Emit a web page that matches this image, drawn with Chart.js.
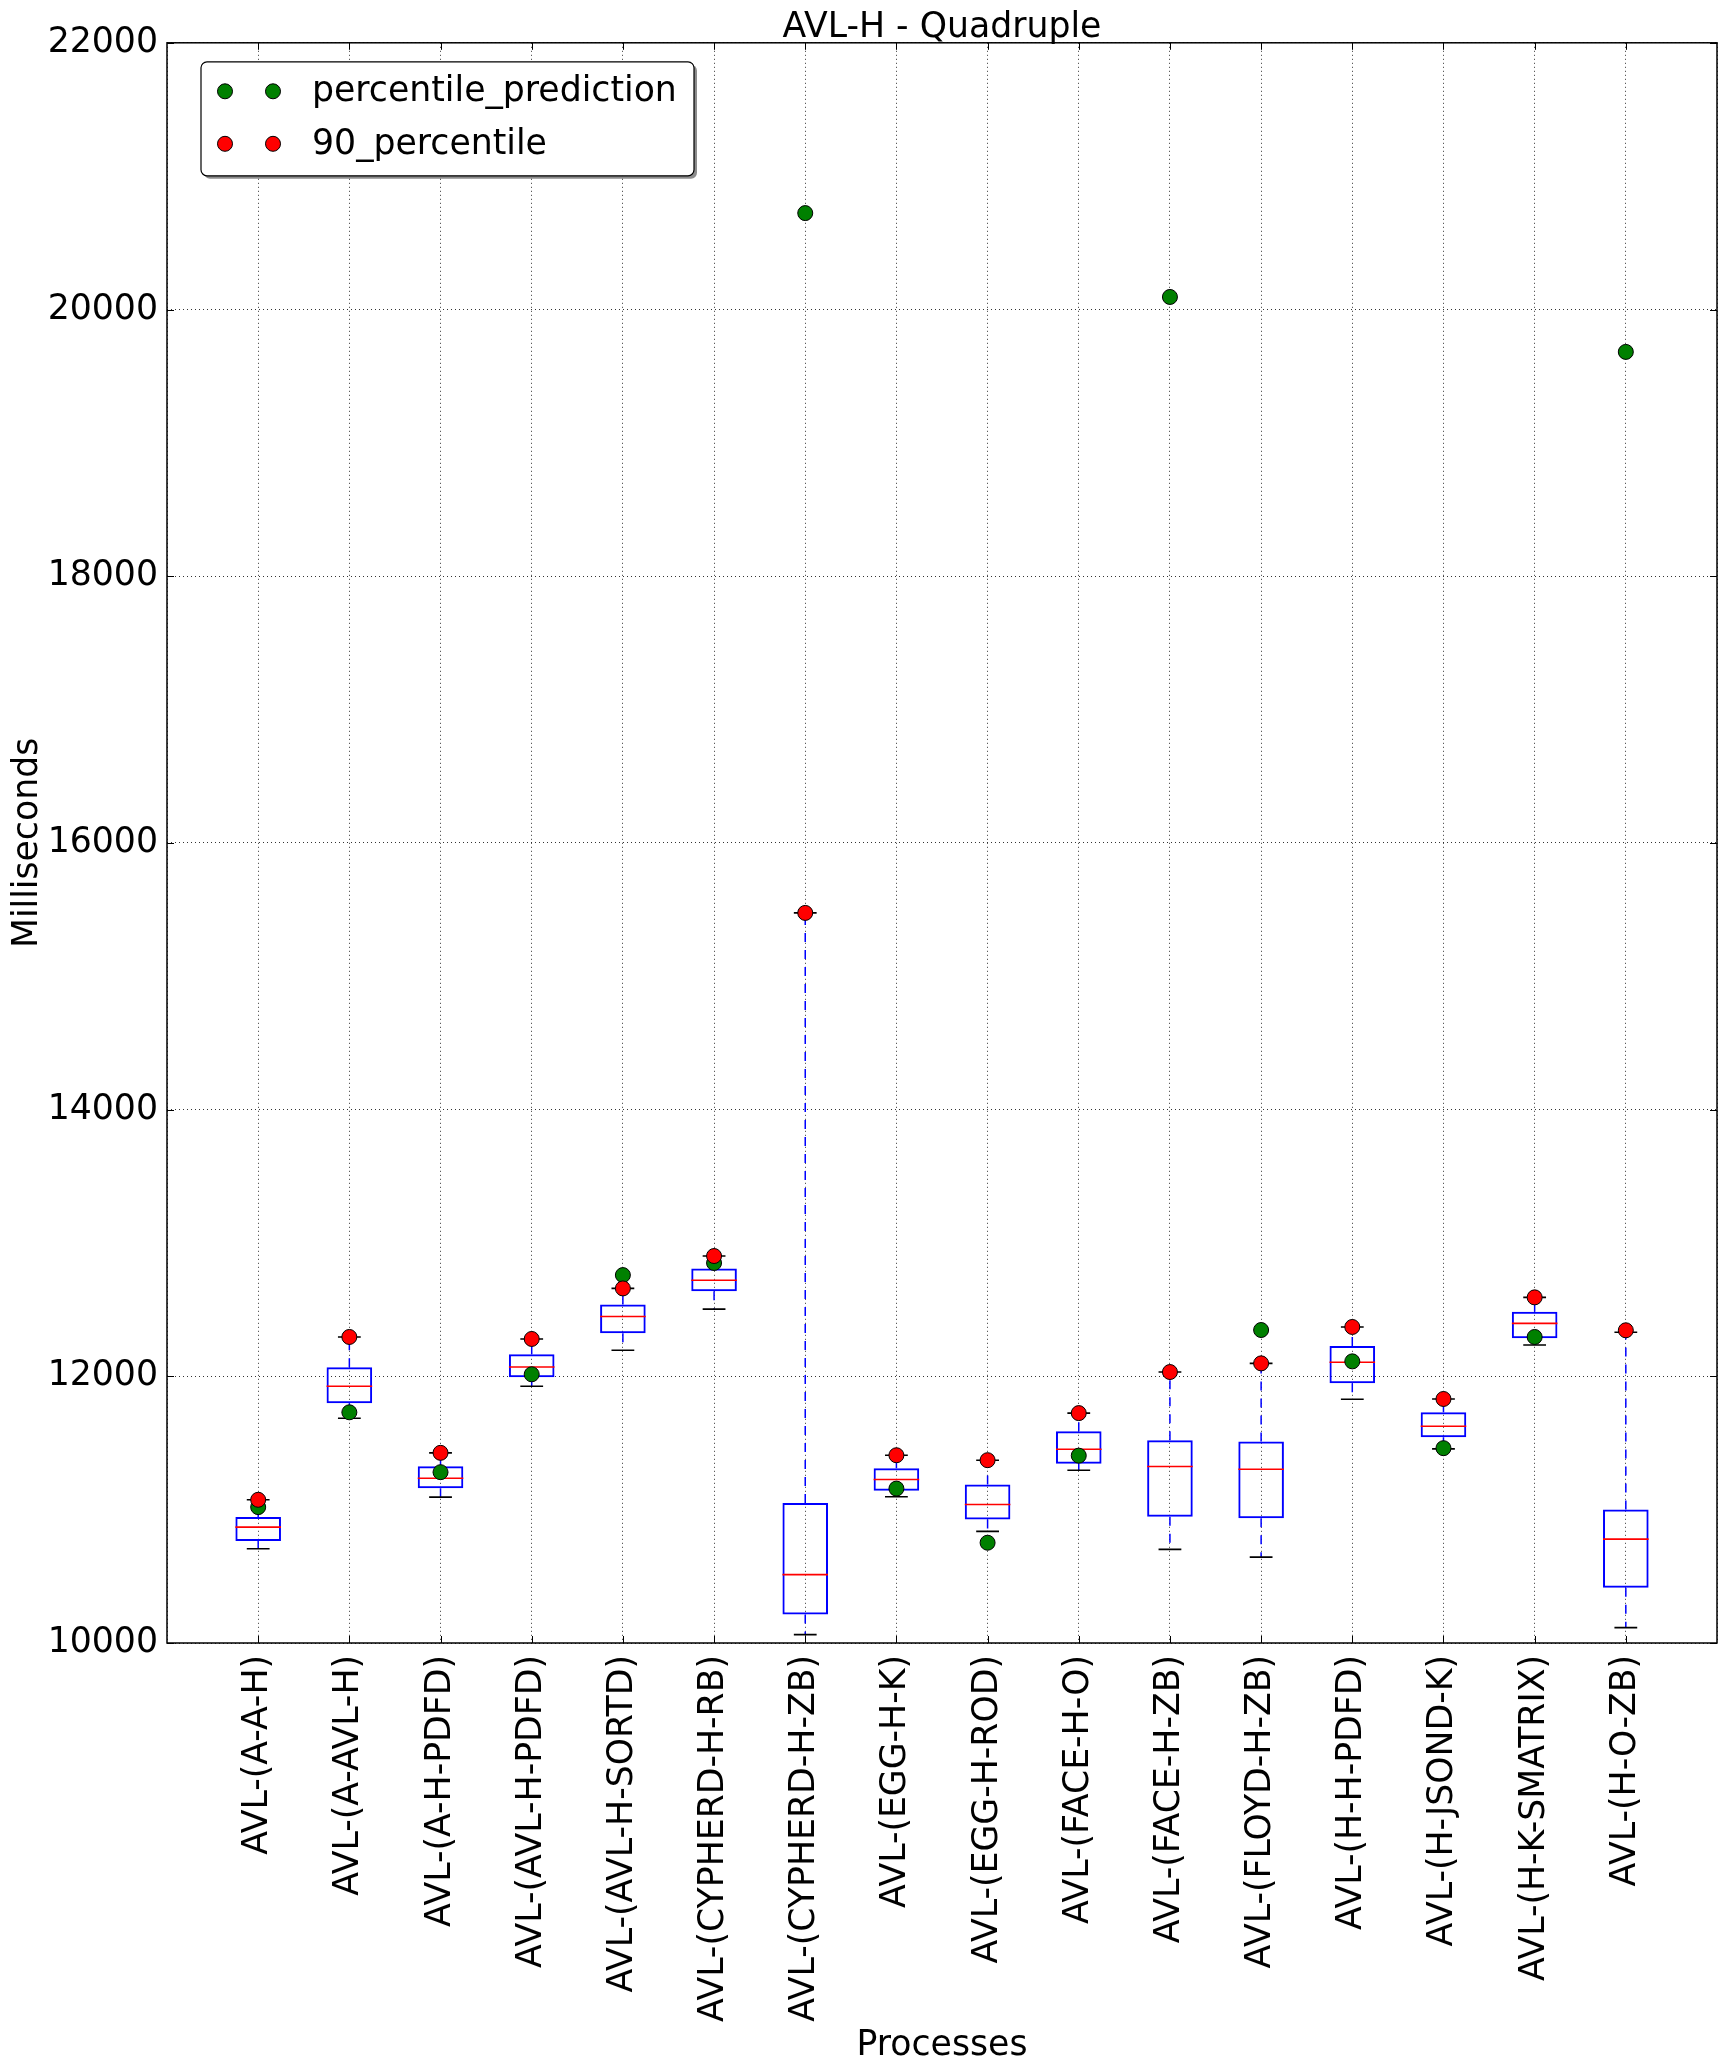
<!DOCTYPE html>
<html>
<head>
<meta charset="utf-8">
<script src="https://cdn.jsdelivr.net/npm/chart.js@4.4.0/dist/chart.umd.min.js"></script>
<style>
html, body { margin: 0; padding: 0; background: #ffffff; }
canvas { display: block; }
</style>
</head>
<body>
<canvas id="c" width="1726" height="2071"></canvas>
<script>
// ---------------- data ----------------
const chartTitle = 'AVL-H - Quadruple';
const xTitle = 'Processes';
const yTitle = 'Milliseconds';

const categories = [
  'AVL-(A-A-H)', 'AVL-(A-AVL-H)', 'AVL-(A-H-PDFD)', 'AVL-(AVL-H-PDFD)',
  'AVL-(AVL-H-SORTD)', 'AVL-(CYPHERD-H-RB)', 'AVL-(CYPHERD-H-ZB)', 'AVL-(EGG-H-K)',
  'AVL-(EGG-H-ROD)', 'AVL-(FACE-H-O)', 'AVL-(FACE-H-ZB)', 'AVL-(FLOYD-H-ZB)',
  'AVL-(H-H-PDFD)', 'AVL-(H-JSOND-K)', 'AVL-(H-K-SMATRIX)', 'AVL-(H-O-ZB)'
];

const whiskerLow  = [10707, 11685, 11094, 11925, 12195, 12504, 10063, 11097, 10837, 11295, 10702, 10644, 11828, 11456, 12235, 10115];
const q1          = [10764, 11798, 11161, 11993, 12322, 12637, 10213, 11142, 10926, 11345, 10947, 10936, 11948, 11543, 12285, 10414];
const median      = [10869, 11925, 11236, 12070, 12449, 12720, 10513, 11226, 11039, 11453, 11324, 11303, 12105, 11625, 12397, 10779];
const q3          = [10944, 12067, 11326, 12165, 12539, 12808, 11050, 11310, 11189, 11587, 11521, 11511, 12227, 11730, 12484, 11001];
const whiskerHigh = [11074, 12295, 11426, 12280, 12659, 12902, 15475, 11408, 11371, 11724, 12032, 12097, 12370, 11830, 12592, 12330];

const percentilePrediction = [11019, 11730, 11281, 12015, 12759, 12850, 20723, 11158, 10752, 11405, 20094, 12347, 12112, 11461, 12295, 19682];
const percentile90         = [11074, 12295, 11426, 12280, 12659, 12902, 15475, 11408, 11371, 11724, 12032, 12097, 12370, 11830, 12592, 12345];

const yTicks = [10000, 12000, 14000, 16000, 18000, 20000, 22000];

// ---------------- build datasets ----------------
const positions = categories.map((_, i) => i + 1);
const capHalf = 0.125;
const medHalf = 0.25;

const boxData = positions.map((x, i) => ({ x: x, y: [q1[i], q3[i]] }));

const whiskerData = [];
const capData = [];
const medianData = [];
positions.forEach((x, i) => {
  whiskerData.push({ x: x, y: q3[i] }, { x: x, y: whiskerHigh[i] }, { x: x, y: null },
                   { x: x, y: q1[i] }, { x: x, y: whiskerLow[i] }, { x: x, y: null });
  capData.push({ x: x - capHalf, y: whiskerHigh[i] }, { x: x + capHalf, y: whiskerHigh[i] }, { x: x, y: null },
               { x: x - capHalf, y: whiskerLow[i] }, { x: x + capHalf, y: whiskerLow[i] }, { x: x, y: null });
  medianData.push({ x: x - medHalf, y: median[i] }, { x: x + medHalf, y: median[i] }, { x: x, y: null });
});
const predData = positions.map((x, i) => ({ x: x, y: percentilePrediction[i] }));
const p90Data = positions.map((x, i) => ({ x: x, y: percentile90[i] }));

const FONT = 'DejaVu Sans';
const FSIZE = 34.7;

// ---------------- plugins ----------------
const framePlugin = {
  id: 'frameAndTicks',
  afterDraw(chart) {
    const { ctx, chartArea, scales } = chart;
    const ys = scales.y, xs = scales.x;
    const L = 7;
    ctx.save();
    ctx.strokeStyle = '#000';
    ctx.lineWidth = 1;
    ctx.beginPath();
    yTicks.forEach(v => {
      const py = Math.round(ys.getPixelForValue(v)) + 0.5;
      ctx.moveTo(chartArea.left, py); ctx.lineTo(chartArea.left + L, py);
      ctx.moveTo(chartArea.right, py); ctx.lineTo(chartArea.right - L, py);
    });
    positions.forEach(v => {
      const px = Math.round(xs.getPixelForValue(v)) + 0.5;
      ctx.moveTo(px, chartArea.bottom); ctx.lineTo(px, chartArea.bottom - L);
      ctx.moveTo(px, chartArea.top); ctx.lineTo(px, chartArea.top + L);
    });
    ctx.stroke();
    ctx.lineWidth = 1.5;
    ctx.strokeRect(chartArea.left, chartArea.top, chartArea.right - chartArea.left, chartArea.bottom - chartArea.top);
    ctx.restore();
  }
};

function roundRectPath(ctx, x, y, w, h, r) {
  ctx.beginPath();
  ctx.moveTo(x + r, y);
  ctx.lineTo(x + w - r, y);
  ctx.arcTo(x + w, y, x + w, y + r, r);
  ctx.lineTo(x + w, y + h - r);
  ctx.arcTo(x + w, y + h, x + w - r, y + h, r);
  ctx.lineTo(x + r, y + h);
  ctx.arcTo(x, y + h, x, y + h - r, r);
  ctx.lineTo(x, y + r);
  ctx.arcTo(x, y, x + r, y, r);
  ctx.closePath();
}

const legendPlugin = {
  id: 'mplLegend',
  afterDraw(chart) {
    const { ctx, chartArea } = chart;
    const entries = chart.data.datasets.filter(d => d.legendEntry);
    entries.sort((a, b) => a.legendEntry - b.legendEntry);
    const x0 = chartArea.left + 34, y0 = chartArea.top + 19;
    const w = 493, h = 114;
    ctx.save();
    ctx.fillStyle = 'rgba(0,0,0,0.45)';
    roundRectPath(ctx, x0 + 3, y0 + 3, w, h, 6);
    ctx.fill();
    ctx.fillStyle = '#ffffff';
    roundRectPath(ctx, x0, y0, w, h, 6);
    ctx.fill();
    ctx.strokeStyle = '#000';
    ctx.lineWidth = 1.2;
    ctx.stroke();
    const rowY = [y0 + 29.5, y0 + 82];
    entries.forEach((d, i) => {
      const cy = rowY[i];
      [x0 + 24, x0 + 72].forEach(cx => {
        ctx.beginPath();
        ctx.arc(cx, cy, 7.5, 0, Math.PI * 2);
        ctx.fillStyle = d.backgroundColor;
        ctx.fill();
        ctx.lineWidth = 1;
        ctx.strokeStyle = '#000';
        ctx.stroke();
      });
      ctx.fillStyle = '#000';
      ctx.font = FSIZE + 'px "' + FONT + '"';
      ctx.textBaseline = 'middle';
      ctx.textAlign = 'left';
      ctx.fillText(d.label, x0 + 111, cy + 1);
    });
    ctx.restore();
  }
};

// ---------------- chart ----------------
new Chart(document.getElementById('c'), {
  type: 'bar',
  data: {
    datasets: [
      {
        type: 'line', label: 'whiskers', data: whiskerData,
        borderColor: '#0000ff', borderWidth: 1.5, borderDash: [9, 8],
        pointRadius: 0, spanGaps: false, fill: false, order: 5
      },
      {
        type: 'line', label: 'caps', data: capData,
        borderColor: '#000000', borderWidth: 1.6,
        pointRadius: 0, spanGaps: false, fill: false, order: 4
      },
      {
        type: 'bar', label: 'boxes', data: boxData,
        borderColor: '#0000ff', borderWidth: 2, borderSkipped: false,
        backgroundColor: 'rgba(0,0,0,0)',
        barPercentage: 0.5, categoryPercentage: 1.0, order: 3
      },
      {
        type: 'line', label: 'medians', data: medianData,
        borderColor: '#ff0000', borderWidth: 1.6,
        pointRadius: 0, spanGaps: false, fill: false, order: 2
      },
      {
        type: 'line', label: 'percentile_prediction', data: predData, legendEntry: 1,
        showLine: false, pointRadius: 7.5, pointHoverRadius: 7.5,
        backgroundColor: '#008000', pointBackgroundColor: '#008000',
        pointBorderColor: '#000000', pointBorderWidth: 1, order: 1
      },
      {
        type: 'line', label: '90_percentile', data: p90Data, legendEntry: 2,
        showLine: false, pointRadius: 7.5, pointHoverRadius: 7.5,
        backgroundColor: '#ff0000', pointBackgroundColor: '#ff0000',
        pointBorderColor: '#000000', pointBorderWidth: 1, order: 0
      }
    ]
  },
  options: {
    responsive: false,
    animation: false,
    devicePixelRatio: 1,
    layout: { padding: { left: 0, right: 9, top: 0, bottom: 0 } },
    plugins: {
      legend: { display: false },
      tooltip: { enabled: false },
      title: {
        display: true, text: chartTitle, color: '#000', fullSize: false,
        font: { family: FONT, size: FSIZE, weight: 'normal', lineHeight: 0.83 },
        padding: { top: 14, bottom: 0 }
      }
    },
    scales: {
      x: {
        type: 'linear', min: 0, max: categories.length + 1, offset: false,
        z: 1,
        grid: { display: true, color: 'rgba(0,0,0,0.8)', lineWidth: 1, drawTicks: false, offset: false },
        border: { display: false, dash: [1, 3] },
        ticks: {
          stepSize: 1, autoSkip: false, minRotation: 90, maxRotation: 90, padding: 12,
          color: '#000', font: { family: FONT, size: FSIZE },
          callback: (v) => (v >= 1 && v <= categories.length) ? categories[v - 1] : ''
        },
        title: {
          display: true, text: xTitle, color: '#000',
          font: { family: FONT, size: FSIZE, lineHeight: 1.2 },
          padding: { top: 0, bottom: 4 }
        },
        afterFit: (s) => { s.height = 428; s.paddingLeft = 0; s.paddingRight = 0; }
      },
      y: {
        type: 'linear', min: yTicks[0], max: yTicks[yTicks.length - 1],
        z: 1,
        grid: { display: true, color: 'rgba(0,0,0,0.8)', lineWidth: 1, drawTicks: false },
        border: { display: false, dash: [1, 3] },
        ticks: {
          stepSize: 2000, padding: 9, color: '#000',
          font: { family: FONT, size: FSIZE },
          callback: (v) => String(v)
        },
        title: {
          display: true, text: yTitle, color: '#000',
          font: { family: FONT, size: FSIZE, lineHeight: 1.2 },
          padding: { top: 7, bottom: 0 }
        },
        afterFit: (s) => { s.width = 167; }
      }
    }
  },
  plugins: [framePlugin, legendPlugin]
});
</script>
</body>
</html>
